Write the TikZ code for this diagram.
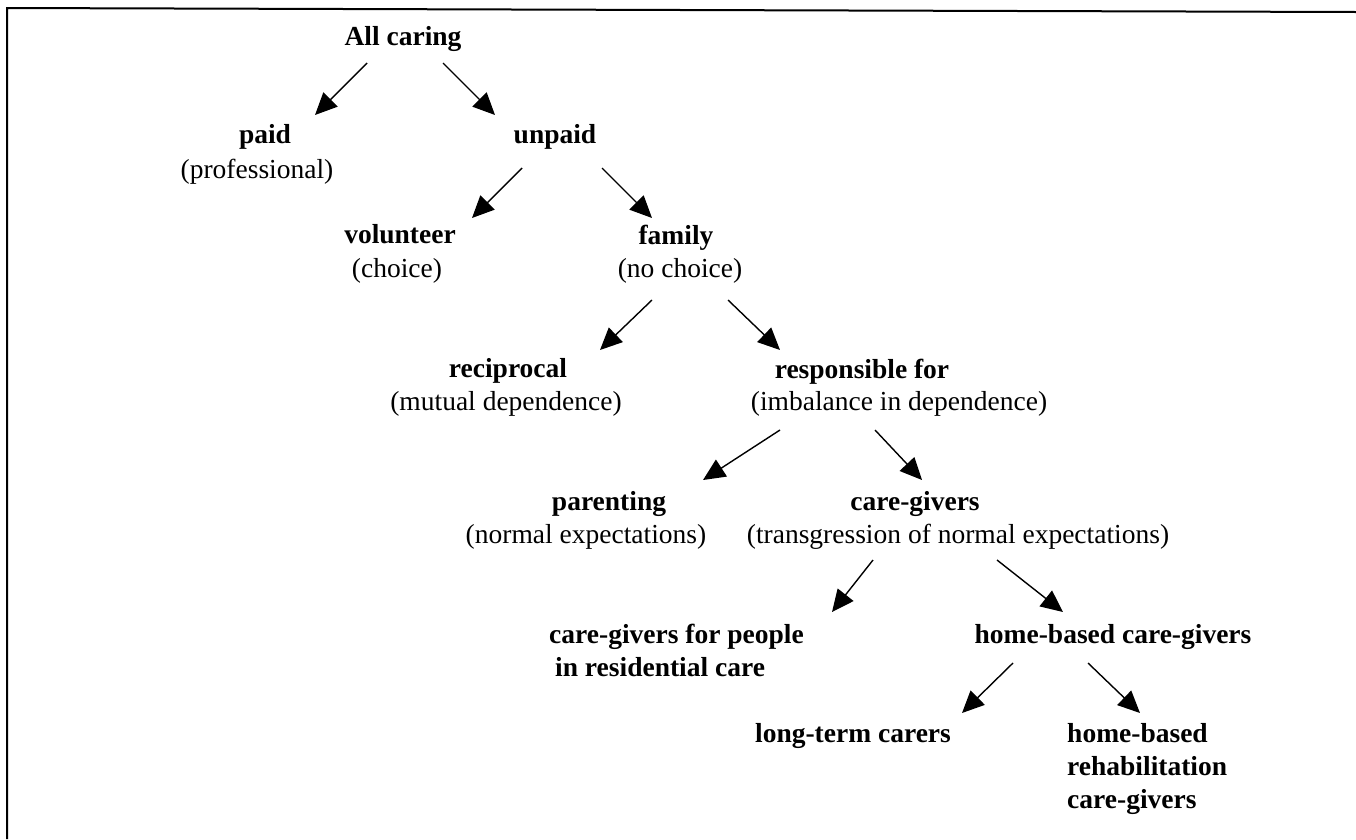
\documentclass[tikz,border=0pt]{standalone}
\usepackage{fontspec}
\setmainfont{Liberation Serif}
\usetikzlibrary{arrows.meta,calc}
\begin{document}
\begin{tikzpicture}[x=1pt,y=-1pt,
  every node/.style={inner sep=0pt,font=\fontsize{27.5}{33}\selectfont},
  title/.style={anchor=base,font=\fontsize{27.5}{33}\selectfont\bfseries},
  note/.style={anchor=base},
  block/.style={anchor=base west,font=\fontsize{27.5}{33}\selectfont\bfseries},
  arr/.style={line width=1.4pt,-{Triangle[length=22pt,width=20pt]}},
  frame/.style={line width=2pt}]
\useasboundingbox (0,0) rectangle (1356,839);
% frame along top and left edge
\draw[frame] (7,839) -- (7,8) -- (1356,12);

% level 0
\node[title] (all) at (403,45) {All caring};
% level 1
\node[title] (paid) at (265,143) {paid};
\node[note] (paidn) at (257,178) {(professional)};
\node[title] (unpaid) at (555,143) {unpaid};
% level 2
\node[title] (vol) at (400,243) {volunteer};
\node[note] (voln) at (397,277) {(choice)};
\node[title] (fam) at (676,244) {family};
\node[note] (famn) at (680,277) {(no choice)};
% level 3
\node[title] (rec) at (508,377) {reciprocal};
\node[note] (recn) at (506,410) {(mutual dependence)};
\node[title] (resp) at (862,378) {responsible for};
\node[note] (respn) at (899,410) {(imbalance in dependence)};
% level 4
\node[title] (par) at (609,510) {parenting};
\node[note] (parn) at (586,543) {(normal expectations)};
\node[title] (cg) at (915,510) {care-givers};
\node[note] (cgn) at (958,543) {(transgression of normal expectations)};
% level 5
\node[block] (res) at (549,643) {\begin{tabular}[t]{@{}l@{}}care-givers for people\\\hspace*{6pt}in residential care\end{tabular}};
\node[title] (home) at (1113,643) {home-based care-givers};
% level 6
\node[title] (long) at (853,742) {long-term carers};
\node[block] (rehab) at (1067,742) {\begin{tabular}[t]{@{}l@{}}home-based\\rehabilitation\\care-givers\end{tabular}};

% connectors
\draw[arr] ($(all.base)+(-36,18)$) -- ($(paid.base)+(50,-28)$);
\draw[arr] ($(all.base)+(40,18)$) -- ($(unpaid.base)+(-60,-28)$);
\draw[arr] ($(unpaid.base)+(-33,25)$) -- ($(vol.base)+(72,-25)$);
\draw[arr] ($(unpaid.base)+(47,25)$) -- ($(fam.base)+(-24,-26)$);
\draw[arr] ($(famn.base)+(-28,23)$) -- ($(rec.base)+(92,-27)$);
\draw[arr] ($(famn.base)+(48,23)$) -- ($(resp.base)+(-82,-28)$);
\draw[arr] ($(respn.base)+(-119,20)$) -- ($(par.base)+(94,-30)$);
\draw[arr] ($(respn.base)+(-24,20)$) -- ($(cg.base)+(7,-30)$);
\draw[arr] ($(cgn.base)+(-85,17)$) -- ($(res.base west)+(283,-31)$);
\draw[arr] ($(cgn.base)+(39,17)$) -- ($(home.base)+(-50,-31)$);
\draw[arr] ($(home.base)+(-100,20)$) -- ($(long.base)+(109,-29)$);
\draw[arr] ($(home.base)+(-25,20)$) -- ($(rehab.base west)+(73,-29)$);
\end{tikzpicture}
\end{document}
